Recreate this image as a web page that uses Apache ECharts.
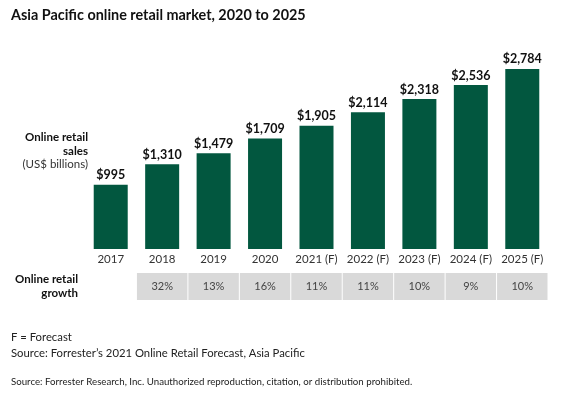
<!DOCTYPE html>
<html>
<head>
<meta charset="utf-8">
<script src="https://cdn.jsdelivr.net/npm/echarts@6/dist/echarts.min.js"></script>
<style>html,body{margin:0;padding:0;background:#fff;}#c{width:565px;height:399px;}</style>
</head>
<body>
<div id="c"></div>
<script>
var categories = ['2017','2018','2019','2020','2021 (F)','2022 (F)','2023 (F)','2024 (F)','2025 (F)'];
var sales = [995, 1310, 1479, 1709, 1905, 2114, 2318, 2536, 2784];
var growth = [null, 32, 13, 16, 11, 11, 10, 9, 10];

var FONT = 'Lato';
var GREEN = '#02573f';

var chart = echarts.init(document.getElementById('c'));
var growthData = [];
growth.forEach(function (g, i) { if (g !== null) growthData.push([i, g]); });

chart.setOption({
  animation: false,
  textStyle: { fontFamily: FONT },
  grid: [
    { left: 85, right: 17, top: 55, height: 194 },
    { left: 85, right: 17, top: 273, height: 27 }
  ],
  xAxis: [
    { type: 'category', gridIndex: 0, data: categories,
      axisLine: { show: false }, axisTick: { show: false },
      axisLabel: { interval: 0, color: '#333', fontSize: 11.5, margin: 4, fontFamily: FONT } },
    { type: 'category', gridIndex: 1, data: categories, show: false }
  ],
  yAxis: [
    { type: 'value', gridIndex: 0, min: 0, max: 3000, show: false },
    { type: 'value', gridIndex: 1, min: 0, max: 1, show: false }
  ],
  series: [
    { type: 'bar', xAxisIndex: 0, yAxisIndex: 0, data: sales, barWidth: 34,
      itemStyle: { color: GREEN },
      label: { show: true, position: 'top', distance: 3, color: '#111', fontWeight: 'bold', fontSize: 12.5,
        fontFamily: FONT,
        formatter: function (p) { return '$' + p.value.toLocaleString('en-US'); } } },
    { type: 'custom', xAxisIndex: 1, yAxisIndex: 1, data: growthData,
      renderItem: function (params, api) {
        var cs = params.coordSys;
        var c = api.coord([api.value(0), 0]);
        var w = api.size([1, 0])[0];
        return { type: 'group', children: [
          { type: 'rect', shape: { x: c[0] - w / 2 + 0.5, y: cs.y, width: w - 1, height: cs.height },
            style: { fill: '#d9d9d9' } },
          { type: 'text', style: { text: api.value(1) + '%', x: c[0], y: cs.y + cs.height / 2,
            align: 'center', verticalAlign: 'middle', fill: '#444', fontSize: 11, fontFamily: FONT } }
        ] };
      } }
  ],
  graphic: [
    { type: 'text', left: 11, top: 8, style: { text: 'Asia Pacific online retail market, 2020 to 2025',
      fill: '#111', fontSize: 14.4, fontWeight: 'bold', fontFamily: FONT } },
    { type: 'text', x: 88, y: 137, style: { text: 'Online retail', align: 'right', verticalAlign: 'middle',
      fill: '#111', fontSize: 11.5, fontWeight: 'bold', fontFamily: FONT } },
    { type: 'text', x: 88, y: 151, style: { text: 'sales', align: 'right', verticalAlign: 'middle',
      fill: '#111', fontSize: 11.5, fontWeight: 'bold', fontFamily: FONT } },
    { type: 'text', x: 88, y: 164, style: { text: '(US$ billions)', align: 'right', verticalAlign: 'middle',
      fill: '#333', fontSize: 11.5, fontFamily: FONT } },
    { type: 'text', x: 78, y: 279, style: { text: 'Online retail', align: 'right', verticalAlign: 'middle',
      fill: '#111', fontSize: 11.5, fontWeight: 'bold', fontFamily: FONT } },
    { type: 'text', x: 78, y: 293, style: { text: 'growth', align: 'right', verticalAlign: 'middle',
      fill: '#111', fontSize: 11.5, fontWeight: 'bold', fontFamily: FONT } },
    { type: 'text', x: 11, y: 337, style: { text: 'F = Forecast', verticalAlign: 'middle',
      fill: '#222', fontSize: 11.3, fontFamily: FONT } },
    { type: 'text', x: 11, y: 353, style: { text: 'Source: Forrester\u2019s 2021 Online Retail Forecast, Asia Pacific', verticalAlign: 'middle',
      fill: '#222', fontSize: 11.3, fontFamily: FONT } },
    { type: 'text', x: 11, y: 382, style: { text: 'Source: Forrester Research, Inc. Unauthorized reproduction, citation, or distribution prohibited.', verticalAlign: 'middle',
      fill: '#222', fontSize: 9.7, fontFamily: FONT } }
  ]
});
</script>
</body>
</html>
